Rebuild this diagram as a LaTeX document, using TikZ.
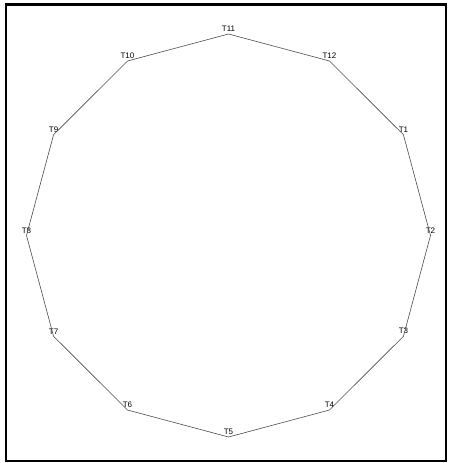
\documentclass[tikz,border=0pt]{standalone}
\usepackage{fontspec}
\setmainfont{Liberation Sans}
\begin{document}
\begin{tikzpicture}[x=1pt,y=-1pt,
  side/.style={draw=black!70,line width=0.6pt},
  tlabel/.style={anchor=south,inner sep=0pt,yshift=2pt,font=\fontsize{8}{9}\selectfont},
  frame/.style={draw=black,line width=2.5pt}]
\useasboundingbox (0,0) rectangle (449,463);
\draw[frame] (6,4.5) rectangle (446,461);
\foreach \k in {1,...,12}{
  \pgfmathsetmacro{\ang}{(2-\k)*30}
  \coordinate (v\k) at ({228.5+202*cos(\ang)},{235.5-201.5*sin(\ang)});
  \node[tlabel] (t\k) at (v\k) {T\k};
}
\draw[side] (v1) -- (v2) -- (v3) -- (v4) -- (v5) -- (v6) -- (v7) -- (v8) -- (v9) -- (v10) -- (v11) -- (v12) -- cycle;
\end{tikzpicture}
\end{document}
